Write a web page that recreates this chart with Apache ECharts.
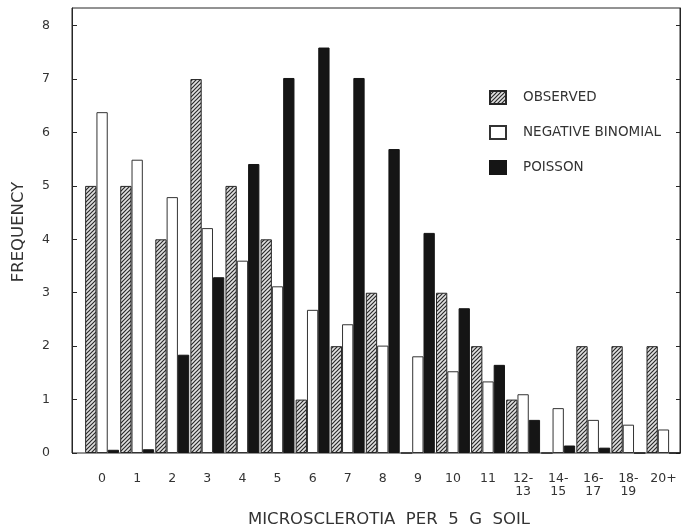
<!DOCTYPE html>
<html><head><meta charset="utf-8">
<script src="https://cdn.jsdelivr.net/npm/echarts@6/dist/echarts.min.js"></script>
<style>html,body{margin:0;padding:0;background:#fff}#c{width:681px;height:532px}</style>
</head><body><div id="c"></div>
<script>
const categories = ['0','1','2','3','4','5','6','7','8','9','10','11','12-\n13','14-\n15','16-\n17','18-\n19','20+'];
const observed = [5,5,4,7,5,4,1,2,3,0,3,2,1,0,2,2,2];
const negativeBinomial = [6.38,5.49,4.79,4.21,3.60,3.12,2.68,2.41,2.01,1.81,1.53,1.34,1.10,0.84,0.62,0.53,0.44];
const poisson = [0.06,0.07,1.84,3.29,5.41,7.02,7.59,7.02,5.69,4.12,2.71,1.65,0.62,0.14,0.10,0,0];
const yTicks = [0,1,2,3,4,5,6,7,8];
const yMin = 0, yMax = 8.33, yStep = 1;
const seriesNames = ['OBSERVED','NEGATIVE BINOMIAL','POISSON'];
const xTitle = 'MICROSCLEROTIA  PER  5  G  SOIL';
const yTitle = 'FREQUENCY';

function hatch(){
  const c=document.createElement('canvas'); c.width=4; c.height=4;
  const g=c.getContext('2d'); g.fillStyle='#e2e2e2'; g.fillRect(0,0,4,4);
  g.strokeStyle='#2a2a2a'; g.lineWidth=1.2;
  g.beginPath(); g.moveTo(-1,5); g.lineTo(5,-1); g.moveTo(-1,1); g.lineTo(1,-1); g.moveTo(3,5); g.lineTo(5,3); g.stroke();
  return c;
}
const ink = '#262626';
const font = 'DejaVu Sans';
const chart = echarts.init(document.getElementById('c'), null, {renderer:'canvas'});
const barCommon = {type:'bar', xAxisIndex:1, yAxisIndex:2, barWidth:11.3, barGap:'0%'};
chart.setOption({
  animation:false,
  backgroundColor:'#fff',
  grid:[
    {left:72, top:8, width:608, height:445, show:true, borderColor:ink, borderWidth:1, backgroundColor:'transparent'},
    {left:84.55, top:8, width:600.1, height:445}
  ],
  legend:{
    orient:'vertical', left:484, top:85, itemWidth:16, itemHeight:13, itemGap:20,
    icon:'rect', data:seriesNames,
    textStyle:{fontFamily:font, fontSize:13.5, color:'#333', lineHeight:13, padding:[0,0,0,12]}
  },
  xAxis:[
    {gridIndex:0, type:'value', min:0, max:1, show:false},
    {gridIndex:1, type:'category', data:categories, axisLine:{show:false}, axisTick:{show:false},
     axisLabel:{margin:19.5, fontFamily:font, fontSize:12.5, lineHeight:13, color:'#333', interval:0}}
  ],
  yAxis:[
    {gridIndex:0, position:'left', min:yMin, max:yMax, interval:yStep,
     axisLine:{show:true, lineStyle:{color:ink}}, axisTick:{show:true, inside:true, length:5, customValues:yTicks, lineStyle:{color:ink}},
     axisLabel:{margin:22, fontFamily:font, fontSize:12.5, color:'#333', customValues:yTicks}, splitLine:{show:false}},
    {gridIndex:0, position:'right', min:yMin, max:yMax, interval:yStep,
     axisLine:{show:true, lineStyle:{color:ink}}, axisTick:{show:true, inside:true, length:4, customValues:yTicks, lineStyle:{color:ink}},
     axisLabel:{show:false}, splitLine:{show:false}},
    {gridIndex:1, min:yMin, max:yMax, interval:yStep, show:false, splitLine:{show:false}}
  ],
  series:[
    Object.assign({name:seriesNames[0], data:observed, itemStyle:{color:{image:hatch(), repeat:'repeat'}, borderColor:ink, borderWidth:1}}, barCommon),
    Object.assign({name:seriesNames[1], data:negativeBinomial, itemStyle:{color:'#ffffff', borderColor:'#333', borderWidth:1}}, barCommon),
    Object.assign({name:seriesNames[2], data:poisson, itemStyle:{color:'#151515', borderColor:'#151515', borderWidth:1}}, barCommon)
  ],
  graphic:[
    {type:'text', x:19, y:232, rotation:Math.PI/2, style:{text:yTitle, font:'16.5px '+font, fill:'#333', align:'center', verticalAlign:'middle'}},
    {type:'text', x:389, y:520, style:{text:xTitle, font:'16.5px '+font, fill:'#333', align:'center', verticalAlign:'middle'}}
  ]
});
</script></body></html>
